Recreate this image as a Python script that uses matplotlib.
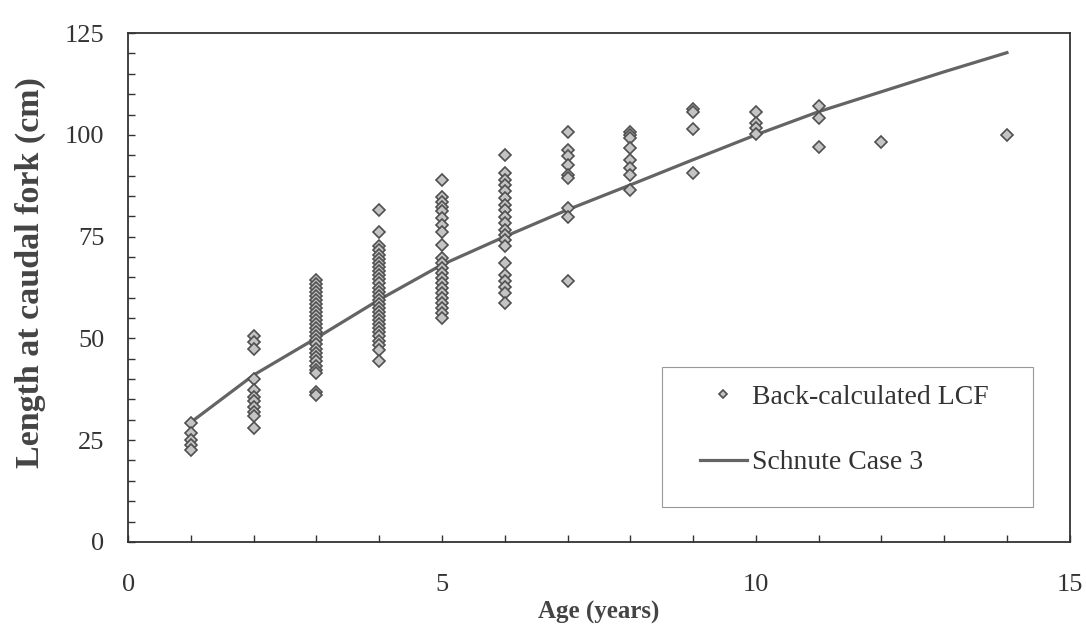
import matplotlib
matplotlib.use("Agg")
import matplotlib.pyplot as plt
from matplotlib.patches import Rectangle
from matplotlib.ticker import MultipleLocator

plt.rcParams['font.family'] = ['Liberation Serif', 'DejaVu Serif']

# Back-calculated lengths by age (cm)
len_age1 = [29.2, 26.7, 25.1, 23.8, 22.6]
len_age2 = [50.6, 49.2, 47.3, 40.0, 37.3, 35.7, 34.5, 33.2, 32.0, 31.0, 28.1]
len_age3 = [64.4, 63.4, 62.4, 61.4, 60.5, 59.5, 58.5, 57.5, 56.5, 55.5, 54.5, 53.5,
            52.5, 51.5, 50.5, 49.5, 48.5, 47.5, 46.5, 45.5, 44.5, 43.3, 42.3, 41.5,
            36.9, 36.2]
len_age4 = [81.6, 76.2, 72.6, 71.7, 70.6, 69.5, 68.5, 67.5, 66.5, 65.5, 64.5, 63.5,
            62.5, 61.5, 60.5, 59.5, 58.5, 57.5, 56.5, 55.5, 54.5, 53.5, 52.5, 51.5,
            50.5, 49.4, 48.3, 47.2, 44.5]
len_age5 = [88.8, 84.8, 83.6, 82.4, 81.2, 79.5, 77.9, 76.2, 73.0, 69.7, 68.5, 67.3,
            66.1, 64.9, 63.6, 62.4, 61.2, 60.0, 58.7, 57.5, 56.3, 55.0]
len_age6 = [95.1, 90.6, 88.9, 87.7, 86.1, 84.4, 82.8, 81.6, 79.9, 78.3, 76.7, 75.4,
            74.2, 72.6, 68.5, 65.6, 64.0, 62.7, 61.1, 58.6]
len_age7 = [100.6, 96.3, 94.7, 92.6, 90.2, 89.4, 82.0, 79.8, 64.1]
len_age8 = [100.8, 100.0, 99.2, 96.7, 93.9, 91.8, 90.2, 86.5]
len_age9 = [106.3, 105.5, 101.5, 90.6]
len_age10 = [105.5, 103.0, 101.6, 100.2]
len_age11 = [107.2, 104.1, 97.1]
len_age12 = [98.2]
len_age14 = [100.0]

ages_obs = [1, 2, 3, 4, 5, 6, 7, 8, 9, 10, 11, 12, 14]
lengths_obs = [len_age1, len_age2, len_age3, len_age4, len_age5, len_age6, len_age7,
               len_age8, len_age9, len_age10, len_age11, len_age12, len_age14]

# Schnute Case 3 fitted curve
fit_age = [1, 2, 3, 4, 5, 6, 7, 8, 9, 10, 11, 12, 13, 14]
fit_len = [29.4, 41.0, 50.1, 59.5, 68.1, 75.0, 81.6, 87.7, 93.9, 100.0, 105.7, 110.6, 115.5, 120.2]

x_pts = []
y_pts = []
for a, vals in zip(ages_obs, lengths_obs):
    x_pts += [a] * len(vals)
    y_pts += vals

fig = plt.figure(figsize=(10.86, 6.25), dpi=100)
ax = fig.add_axes([0.118, 0.133, 0.867, 0.814])

ax.plot(x_pts, y_pts, linestyle='none', marker='D', markersize=6.5,
        markerfacecolor='#c4c4c4', markeredgecolor='#505050', markeredgewidth=1.2,
        label='Back-calculated LCF', zorder=3)
ax.plot(fit_age, fit_len, color='#646464', linewidth=2.3, label='Schnute Case 3', zorder=2)

ax.set_xlim(0, 15)
ax.set_ylim(0, 125)
ax.xaxis.set_major_locator(MultipleLocator(5))
ax.xaxis.set_minor_locator(MultipleLocator(1))
ax.yaxis.set_major_locator(MultipleLocator(25))
ax.yaxis.set_minor_locator(MultipleLocator(5))
ax.tick_params(which='both', direction='in', length=5, width=1, color='#333333')
ax.tick_params(axis='y', which='major', pad=17, labelsize=19, labelcolor='#333333')
ax.tick_params(axis='x', which='major', pad=23, labelsize=19, labelcolor='#333333')
for s in ax.spines.values():
    s.set_color('#333333')
    s.set_linewidth(1.3)

ax.set_xlabel('Age (years)', fontsize=18, fontweight='bold', color='#444444', labelpad=4)
ax.set_ylabel('Length at caudal fork (cm)', fontsize=24.5, fontweight='bold', color='#444444')
ax.yaxis.set_label_coords(-0.087, 0.53)

# legend box drawn separately, entries placed inside it
ax.add_patch(Rectangle((0.567, 0.069), 0.394, 0.275, transform=ax.transAxes, fill=False,
                       edgecolor='#999999', linewidth=0.8, zorder=4))
leg = ax.legend(loc='upper left', bbox_to_anchor=(0.607, 0.310), borderaxespad=0,
                borderpad=0, fontsize=20, frameon=False, markerscale=0.7,
                handlelength=1.7, labelspacing=1.45, handletextpad=0.2)
for t in leg.get_texts():
    t.set_color('#333333')

fig.savefig('out.png', dpi=100)
